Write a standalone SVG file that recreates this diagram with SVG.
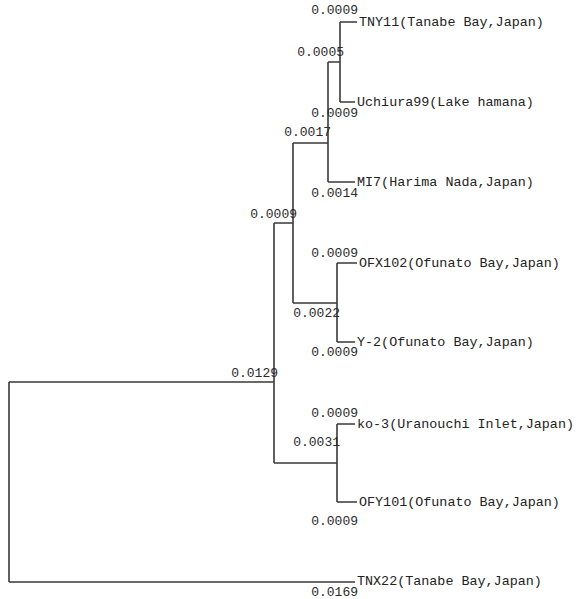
<svg xmlns="http://www.w3.org/2000/svg" width="576" height="599" viewBox="0 0 576 599">
<style>
.t{font-family:"Liberation Mono","Courier New",monospace;font-size:13.4px;fill:#222;}
.b{font-family:"Liberation Mono","Courier New",monospace;font-size:13px;fill:#2a2a2a;text-anchor:end;}
.e{fill:none;stroke:#3a3a3a;stroke-width:1.6;}
</style>
<rect width="576" height="599" fill="#ffffff"/>
<g id="connectors" class="e">
<path d="M9,382 V582 M9,382 H274 M9,582 H355"/>
<path d="M274,223 V463 M274,223 H293 M274,463 H337"/>
<path d="M293,143 V303 M293,143 H328 M293,303 H337"/>
<path d="M328,62 V182 M328,62 H340 M328,182 H355"/>
<path d="M340,22 V102 M340,22 H357 M340,102 H355"/>
<path d="M337,263 V342 M337,263 H357 M337,342 H355"/>
<path d="M337,424 V502 M337,424 H355 M337,502 H357"/>
</g>
<g id="n_root"><text class="b" x="278" y="377">0.0129</text></g>
<g id="n_a"><text class="b" x="297" y="218">0.0009</text></g>
<g id="n_b"><text class="b" x="331" y="136">0.0017</text></g>
<g id="n_c"><text class="b" x="344" y="56">0.0005</text></g>
<g id="n_d"><text class="b" x="340" y="317">0.0022</text></g>
<g id="n_e"><text class="b" x="340" y="446">0.0031</text></g>
<g id="TNY11"><text class="b" x="358" y="14">0.0009</text><text class="t" x="359" y="26">TNY11(Tanabe Bay,Japan)</text></g>
<g id="Uchiura99"><text class="b" x="358" y="117">0.0009</text><text class="t" x="357" y="106">Uchiura99(Lake hamana)</text></g>
<g id="MI7"><text class="b" x="358" y="197">0.0014</text><text class="t" x="357" y="186">MI7(Harima Nada,Japan)</text></g>
<g id="OFX102"><text class="b" x="358" y="257">0.0009</text><text class="t" x="359" y="267">OFX102(Ofunato Bay,Japan)</text></g>
<g id="Y-2"><text class="b" x="358" y="356">0.0009</text><text class="t" x="357" y="346">Y-2(Ofunato Bay,Japan)</text></g>
<g id="ko-3"><text class="b" x="358" y="417">0.0009</text><text class="t" x="357" y="428">ko-3(Uranouchi Inlet,Japan)</text></g>
<g id="OFY101"><text class="b" x="358" y="525">0.0009</text><text class="t" x="359" y="506">OFY101(Ofunato Bay,Japan)</text></g>
<g id="TNX22"><text class="b" x="358" y="596">0.0169</text><text class="t" x="357" y="585">TNX22(Tanabe Bay,Japan)</text></g>
</svg>
